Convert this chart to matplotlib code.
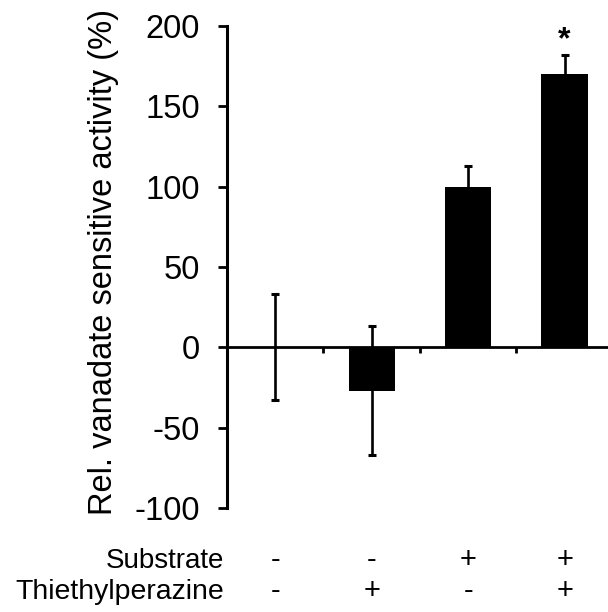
import numpy as np
import matplotlib.pyplot as plt
from matplotlib.transforms import blended_transform_factory

plt.rcParams['font.family'] = ['Liberation Sans', 'DejaVu Sans']

# values
activity = [0, -27, 100, 170]
errors = [33, 40, 13, 12]
substrate = ['-', '-', '+', '+']
thiethylperazine = ['-', '+', '-', '+']
yticks = [-100, -50, 0, 50, 100, 150, 200]

x = np.arange(len(activity))

fig = plt.figure(figsize=(6.08, 6.12), dpi=100)
ax = fig.add_axes([227 / 608, 1 - 508 / 612, 381 / 608, (508 - 26) / 612])

ax.bar(x, activity, width=0.48, color='black', zorder=2)
ax.errorbar(x, activity, yerr=errors, fmt='none', ecolor='black',
            elinewidth=1.9, capsize=3, capthick=2.2, zorder=3)

ax.set_xlim(-0.5, 3.45)
ax.set_ylim(-100, 200)
ax.set_yticks(yticks)
ax.set_yticklabels([str(v) for v in yticks], fontsize=23.5)
ax.tick_params(axis='y', length=6.5, width=2, pad=13)

# zero line acts as the x axis
ax.spines['top'].set_visible(False)
ax.spines['right'].set_visible(False)
ax.spines['left'].set_linewidth(2.2)
ax.spines['bottom'].set_position(('data', 0))
ax.spines['bottom'].set_linewidth(2)
ax.set_xticks(x[:-1] + 0.5)
ax.set_xticklabels([])
ax.tick_params(axis='x', length=4.5, width=2, direction='out')

# significance mark
ax.text(3, 186, '*', ha='center', va='baseline', fontsize=23, fontweight='bold')

fig.text(104 / 608, 1 - 262 / 612, 'Rel. vanadate sensitive activity (%)',
         rotation=90, ha='center', va='center', fontsize=23.5)

# treatment table below the chart
trans = blended_transform_factory(ax.transData, fig.transFigure)
row_y = [1 - 568 / 612, 1 - 599 / 612]
fig.text(224 / 608, row_y[0], 'Substrate', ha='right', va='baseline', fontsize=20)
fig.text(224 / 608, row_y[1], 'Thiethylperazine', ha='right', va='baseline', fontsize=20.5)
for i in range(len(x)):
    ax.text(x[i], row_y[0], substrate[i], transform=trans, ha='center',
            va='baseline', fontsize=21)
    ax.text(x[i], row_y[1], thiethylperazine[i], transform=trans, ha='center',
            va='baseline', fontsize=21)

fig.savefig('out.png', dpi=100)
